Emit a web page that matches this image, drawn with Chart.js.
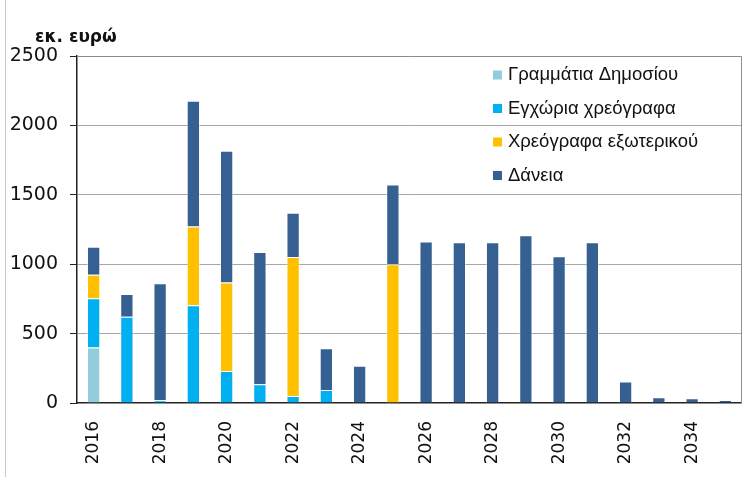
<!DOCTYPE html>
<html lang="el">
<head>
  <meta charset="UTF-8" />
  <title>Λήξεις χρέους</title>
  <script src="https://cdn.jsdelivr.net/npm/chart.js"></script>
  <style>
    html, body { margin: 0; padding: 0; background: #fff; }
    #wrap { width: 756px; height: 477px; position: relative; }
  </style>
</head>
<body>
  <div id="wrap"><canvas id="chart" width="756" height="477"></canvas></div>
  <script>
    const years = ["2016","2017","2018","2019","2020","2021","2022","2023","2024","2025",
                   "2026","2027","2028","2029","2030","2031","2032","2033","2034","2035"];
    const tbills  = [400, 0, 0, 0, 0, 0, 0, 0, 0, 0, 0, 0, 0, 0, 0, 0, 0, 0, 0, 0];
    const domestic = [355, 622, 19, 704, 231, 135, 51, 94, 0, 0, 0, 0, 0, 0, 0, 0, 0, 0, 0, 0];
    const foreign = [169, 0, 0, 568, 637, 0, 1000, 0, 0, 1000, 0, 0, 0, 0, 0, 0, 0, 0, 0, 0];
    const loans   = [202, 164, 844, 906, 949, 952, 320, 301, 268, 575,
                     1164, 1159, 1159, 1208, 1058, 1159, 155, 41, 34, 22];
    const yTicks = [0, 500, 1000, 1500, 2000, 2500];

    const seriesLabels = ["Γραμμάτια Δημοσίου", "Εγχώρια χρεόγραφα", "Χρεόγραφα εξωτερικού", "Δάνεια"];
    const colors = ["#92cddc", "#00b0f0", "#ffc000", "#376092"];

    // frame, title and legend drawn by hand
    const extras = {
      id: "extras",
      afterDraw(chart) {
        const c = chart.ctx;
        const a = chart.chartArea;
        c.save();
        c.strokeStyle = "#c8c8c8";
        c.lineWidth = 1;
        c.beginPath();
        c.moveTo(5.5, 0);
        c.lineTo(5.5, chart.height);
        c.stroke();

        c.strokeStyle = "#8c8c8c";
        c.beginPath();
        c.moveTo(a.left, a.top + 0.5);
        c.lineTo(a.right - 0.5, a.top + 0.5);
        c.lineTo(a.right - 0.5, a.bottom);
        c.stroke();

        c.fillStyle = "#111";
        c.font = "bold 17px 'DejaVu Sans'";
        c.textBaseline = "middle";
        c.fillText("εκ. ευρώ", 35, 38);

        c.font = "18.5px 'Liberation Sans'";
        chart.data.datasets.forEach((ds, i) => {
          const y = 75 + i * 33.5;
          c.fillStyle = ds.backgroundColor;
          c.fillRect(493, y - 4.5, 9, 9);
          c.fillStyle = "#111";
          c.fillText(ds.label, 508, y);
        });
        c.restore();
      }
    };

    const datasets = [tbills, domestic, foreign, loans].map((d, i) => ({
      label: seriesLabels[i],
      data: d,
      backgroundColor: colors[i],
      borderColor: "rgba(255,255,255,0.5)",
      borderWidth: 1,
      categoryPercentage: 1,
      barPercentage: 0.4
    }));

    new Chart(document.getElementById("chart"), {
      type: "bar",
      data: { labels: years, datasets: datasets },
      plugins: [extras],
      options: {
        responsive: false,
        animation: false,
        layout: { padding: { top: 56, right: 10, left: 0, bottom: 0 } },
        plugins: { legend: { display: false }, tooltip: { enabled: false } },
        scales: {
          x: {
            stacked: true,
            grid: { display: false },
            border: { color: "#222", width: 1.5 },
            afterFit: s => { s.height = 74; },
            ticks: {
              autoSkip: false,
              minRotation: 90,
              maxRotation: 90,
              padding: 10,
              color: "#111",
              font: { family: "DejaVu Sans", size: 17 },
              callback: (v, i) => (i % 2 === 0 ? years[i] : "")
            }
          },
          y: {
            stacked: true,
            min: 0,
            max: 2500,
            afterFit: s => { s.width = 77; },
            afterBuildTicks: s => { s.ticks = yTicks.map(v => ({ value: v })); },
            border: { color: "#222", width: 1.5 },
            grid: {
              color: ctx => (ctx.tick && (ctx.tick.value === 0 || ctx.tick.value === 2500) ? "rgba(0,0,0,0)" : "#a6a6a6"),
              borderDash: [2, 2],
              tickColor: "#222",
              tickLength: 7,
              tickBorderDash: [],
              drawTicks: true
            },
            ticks: {
              padding: 12,
              color: "#111",
              font: { family: "DejaVu Sans", size: 19 },
              callback: v => String(v)
            }
          }
        }
      }
    });
  </script>
</body>
</html>
